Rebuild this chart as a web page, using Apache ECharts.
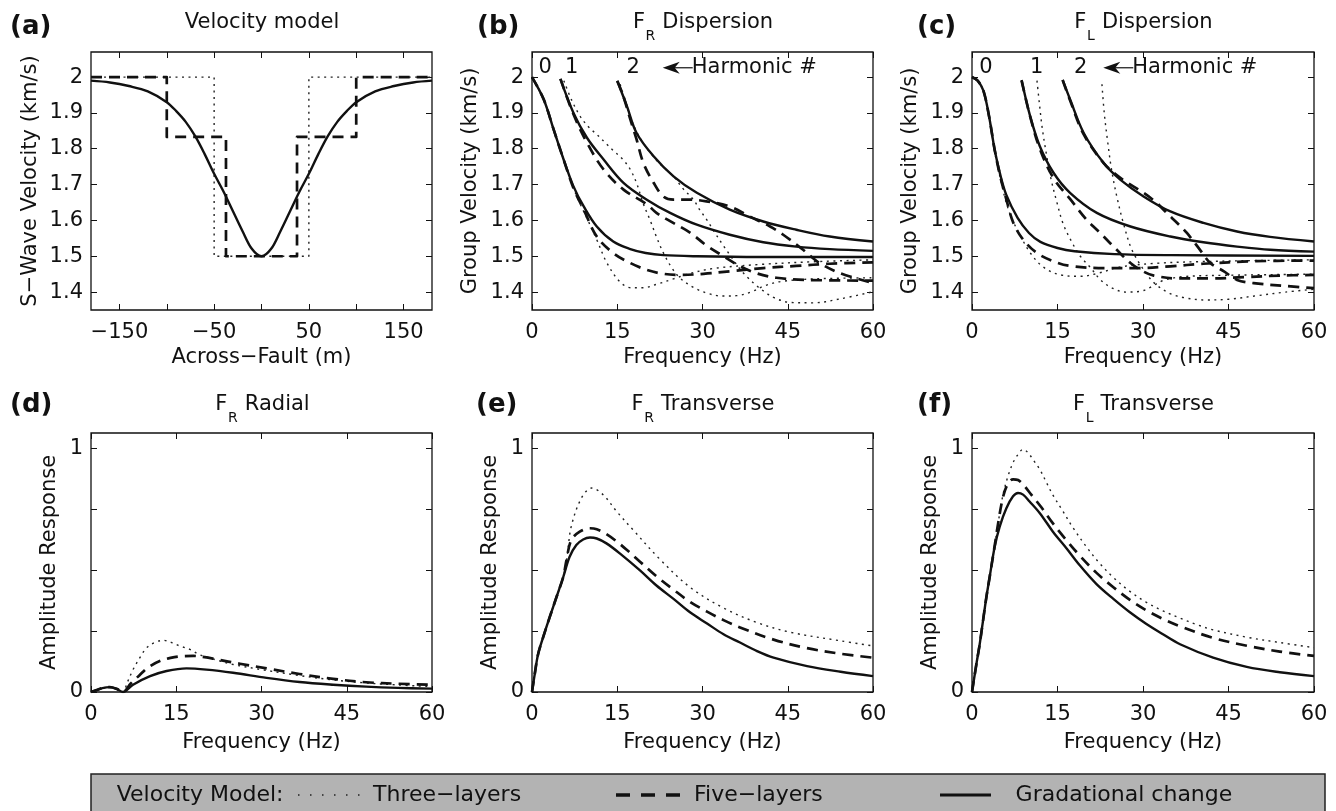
<!DOCTYPE html>
<html><head><meta charset="utf-8">
<script src="https://cdn.jsdelivr.net/npm/echarts@6/dist/echarts.min.js"></script>
<style>html,body{margin:0;padding:0;background:#fff}#c{width:1336px;height:811px}</style>
</head><body><div id="c"></div>
<script>
// ================= DATA =================
// (a) Velocity model
const velX = [-180,-160,-140,-120,-100,-90,-80,-70,-60,-50,-40,-30,-20,-10,0,10,20,30,40,50,60,70,80,90,100,120,140,160,180];
const velGradational = [1.99,1.985,1.975,1.96,1.93,1.905,1.875,1.835,1.785,1.73,1.68,1.625,1.57,1.52,1.5,1.52,1.57,1.625,1.68,1.73,1.785,1.835,1.875,1.905,1.93,1.96,1.975,1.985,1.99];
const velThreeX = [-180,-50,-50,50,50,180];
const velThreeV = [2,2,1.5,1.5,2,2];
const velFiveX = [-180,-100,-100,-37.5,-37.5,37.5,37.5,100,100,180];
const velFiveV = [2,2,1.833,1.833,1.5,1.5,1.833,1.833,2,2];
const velTicksX = [-150,-100,-50,0,50,100,150];
const velLabelsX = [-150,-50,50,150];
const velTicksY = [1.4,1.5,1.6,1.7,1.8,1.9,2];
const freqTicks = [0,15,30,45,60];
const ampTicks = [0,0.25,0.5,0.75,1];
const ampLabels = [0,1];

// (b) F_R dispersion  [frequency Hz, group velocity km/s]
const frThreeH0 = [[0,2.0],[2,1.94],[3.8,1.854],[5.56,1.77],[7.3,1.69],[8.5,1.645],[9.7,1.605],[11.4,1.546],[13.2,1.481],[15.5,1.428],[17.5,1.412],[19.5,1.412],[22,1.422],[24.9,1.437],[27.8,1.452],[32,1.466],[40,1.477],[50,1.485],[60,1.49]];
const frThreeH1 = [[5.6,1.99],[7,1.935],[8.5,1.89],[10,1.86],[11.4,1.84],[13,1.815],[14.3,1.795],[16,1.77],[17.3,1.742],[18.5,1.7],[19.5,1.65],[20.8,1.6],[22,1.55],[23.1,1.51],[24.5,1.47],[26,1.44],[28.4,1.413],[31,1.396],[33.5,1.389],[36,1.39],[38.5,1.4],[41,1.418],[44,1.43],[50,1.437],[60,1.44]];
const frThreeH2 = [[15.5,1.98],[16.5,1.93],[17.5,1.88],[19,1.83],[21,1.785],[23,1.75],[24.9,1.723],[26.5,1.69],[28.4,1.658],[29.5,1.63],[30.7,1.603],[32.2,1.565],[33.7,1.529],[35.2,1.495],[36.6,1.464],[38,1.44],[39.5,1.418],[41,1.4],[42.5,1.385],[45.4,1.371],[49.5,1.37],[54.2,1.381],[60,1.401]];
const frFiveH0 = [[0,2.0],[2.05,1.938],[3.8,1.854],[5.56,1.77],[7.3,1.69],[9.1,1.63],[11.4,1.555],[14.3,1.509],[17.3,1.481],[20.2,1.462],[23.1,1.451],[26.1,1.448],[30.2,1.451],[34.8,1.458],[40.7,1.467],[46.5,1.473],[52.4,1.479],[60,1.483]];
const frFiveH1 = [[5,1.995],[7.3,1.896],[9.7,1.816],[12.6,1.742],[16.1,1.686],[20.2,1.645],[21.9,1.621],[24.3,1.598],[27.8,1.566],[30.7,1.53],[33.7,1.5],[36.6,1.472],[39.6,1.452],[43,1.44],[48,1.434],[60,1.432]];
const frFiveH2 = [[15,1.99],[16,1.95],[17.3,1.882],[18.4,1.826],[19.6,1.76],[21.4,1.705],[23.1,1.667],[24.9,1.658],[27.8,1.658],[30.7,1.653],[34.8,1.639],[38.3,1.611],[41.9,1.583],[44.2,1.56],[47.7,1.518],[50.6,1.481],[54.2,1.453],[60,1.425]];
const frGradH0 = [[0,2.0],[2.05,1.938],[3.8,1.854],[5.56,1.77],[7.3,1.695],[9.1,1.639],[11.4,1.583],[14.3,1.541],[17.3,1.52],[20,1.509],[23.1,1.503],[29,1.5],[40,1.498],[60,1.498]];
const frGradH1 = [[5,1.995],[7.3,1.9],[9.7,1.83],[12.6,1.77],[16.1,1.705],[20.2,1.658],[24.3,1.621],[29,1.588],[34.8,1.56],[40.7,1.539],[46.5,1.527],[52.4,1.52],[60,1.515]];
const frGradH2 = [[15,1.989],[16.7,1.919],[18.4,1.844],[21.4,1.779],[24.9,1.723],[29,1.677],[34.8,1.63],[40.7,1.597],[46.5,1.574],[52.4,1.555],[60,1.541]];

// (c) F_L dispersion
const flThreeH0 = [[0,2.0],[1,1.99],[2,1.962],[3,1.89],[4,1.79],[5,1.715],[6,1.65],[7,1.605],[8.4,1.56],[10.2,1.51],[12.5,1.47],[15.5,1.448],[19,1.444],[22,1.452],[26,1.47],[32,1.48],[40,1.485],[50,1.488],[60,1.49]];
const flThreeH1 = [[11.4,1.99],[11.8,1.93],[12.3,1.86],[13,1.79],[13.8,1.72],[14.9,1.65],[16,1.59],[17.5,1.54],[19,1.5],[20.7,1.47],[22.5,1.435],[24.5,1.412],[27,1.4],[29.5,1.402],[31.5,1.415],[33.5,1.432],[37,1.443],[45,1.447],[60,1.45]];
const flThreeH2 = [[22.8,1.98],[23.2,1.9],[23.8,1.82],[24.5,1.74],[25.5,1.66],[26.6,1.59],[28,1.52],[30,1.465],[32,1.425],[34.5,1.398],[37,1.385],[41,1.378],[45,1.38],[50,1.39],[55,1.4],[60,1.408]];
const flFiveH0 = [[0,2.0],[1,1.99],[2,1.962],[3,1.89],[4,1.795],[5,1.72],[6,1.66],[7.26,1.593],[9,1.546],[11.4,1.509],[14.3,1.486],[17.2,1.473],[23.1,1.467],[28.9,1.467],[34.8,1.472],[40.6,1.479],[49.4,1.486],[60,1.488]];
const flFiveH1 = [[8.7,1.99],[10.2,1.89],[11.9,1.8],[14.3,1.718],[17.2,1.66],[20.1,1.602],[21.9,1.574],[23.1,1.555],[25.4,1.518],[27.8,1.481],[30,1.458],[31.9,1.446],[36,1.438],[42,1.438],[48,1.442],[54,1.446],[60,1.448]];
const flFiveH2 = [[15.9,1.992],[17.2,1.935],[19.6,1.84],[23.1,1.76],[25.5,1.725],[27.8,1.7],[30.1,1.677],[32.4,1.649],[34.2,1.62],[36,1.593],[37.7,1.565],[40,1.518],[41.8,1.481],[44.2,1.458],[46.5,1.434],[49.4,1.425],[55,1.417],[60,1.411]];
const flGradH0 = [[0,2.0],[1,1.99],[2,1.962],[3,1.89],[4,1.795],[5,1.725],[6,1.672],[8,1.607],[10,1.565],[12,1.54],[15,1.523],[18,1.514],[25,1.506],[35,1.503],[60,1.501]];
const flGradH1 = [[8.7,1.992],[10.2,1.891],[11.9,1.807],[14.3,1.733],[17.2,1.677],[21.9,1.621],[27.8,1.583],[34.8,1.555],[40.6,1.539],[46.5,1.527],[52.3,1.518],[60,1.513]];
const flGradH2 = [[15.9,1.992],[17.2,1.938],[19.6,1.844],[23.1,1.76],[26,1.714],[30.1,1.667],[34.8,1.625],[40.6,1.593],[46.5,1.569],[52.3,1.554],[60,1.541]];

// (d) F_R radial amplitude  [frequency Hz, amplitude]
const radialThree = [[0,0],[1,0.008],[2,0.016],[3.3,0.02],[4.5,0.013],[5.6,0],[6.4,0.04],[7.4,0.092],[8.6,0.141],[9.8,0.182],[11.2,0.203],[12.7,0.212],[14.2,0.203],[15.6,0.189],[17.4,0.175],[19.2,0.152],[22,0.132],[25,0.113],[30,0.092],[36,0.07],[42,0.051],[48,0.038],[54,0.029],[60,0.022]];
const radialFive = [[0,0],[1,0.008],[2,0.016],[3.3,0.02],[4.5,0.013],[5.6,0],[7,0.035],[8.5,0.068],[10,0.1],[12.1,0.127],[14,0.14],[16,0.147],[18,0.148],[20,0.143],[22.1,0.134],[26.2,0.116],[30.9,0.097],[36.7,0.074],[42.6,0.054],[48.4,0.04],[54,0.034],[60,0.03]];
const radialGrad = [[0,0],[1,0.008],[2,0.016],[3.3,0.02],[4.5,0.013],[5.6,0],[7.4,0.03],[10.4,0.065],[13.3,0.086],[16.8,0.097],[20.3,0.092],[25,0.079],[30.9,0.058],[36.7,0.041],[42.6,0.03],[48.4,0.022],[54,0.017],[60,0.014]];

// (e) F_R transverse amplitude
const transRThree = [[0,0],[0.47,0.072],[1.06,0.154],[1.94,0.223],[3.1,0.306],[4.3,0.389],[5.5,0.472],[6.2,0.56],[6.9,0.679],[8.7,0.796],[10.5,0.837],[12.5,0.81],[14.9,0.741],[17.8,0.665],[22.5,0.545],[27.8,0.43],[33.7,0.345],[39.6,0.285],[45.5,0.245],[54.3,0.21],[60,0.189]];
const transRFive = [[0,0],[0.47,0.072],[1.06,0.154],[1.94,0.223],[3.1,0.306],[4.3,0.389],[5.5,0.472],[6.06,0.541],[6.9,0.623],[8.4,0.658],[10.2,0.672],[11.4,0.668],[13.1,0.648],[14.9,0.618],[16.6,0.585],[19,0.535],[21.9,0.475],[24.9,0.42],[27.8,0.37],[30.8,0.33],[33.7,0.295],[36.6,0.265],[42.5,0.215],[48.4,0.18],[54.3,0.157],[60,0.141]];
const transRGrad = [[0,0],[0.47,0.072],[1.06,0.154],[1.94,0.223],[3.1,0.306],[4.3,0.389],[5.5,0.472],[6.6,0.554],[7.8,0.603],[9,0.626],[10.2,0.634],[11.4,0.63],[13.1,0.61],[15.5,0.568],[19,0.499],[21.9,0.437],[24.9,0.382],[27.8,0.327],[30.8,0.281],[33.7,0.237],[36.6,0.203],[39.6,0.168],[42.5,0.141],[48.4,0.106],[54.3,0.083],[60,0.065]];

// (f) F_L transverse amplitude
const transLThree = [[0,0],[0.76,0.113],[1.35,0.196],[1.93,0.292],[2.52,0.389],[3.1,0.472],[3.98,0.6],[4.57,0.69],[5.44,0.81],[6.32,0.886],[7.2,0.941],[8.08,0.975],[8.96,0.996],[9.84,0.982],[10.7,0.954],[11.9,0.913],[13.1,0.858],[14.2,0.808],[16,0.74],[17.7,0.675],[20.1,0.595],[22.4,0.528],[24.8,0.47],[27.7,0.413],[30.6,0.368],[33.5,0.333],[36.5,0.303],[39.4,0.277],[42.3,0.255],[48.2,0.225],[54,0.203],[60,0.182]];
const transLFive = [[0,0],[0.76,0.113],[1.35,0.196],[1.93,0.292],[2.52,0.389],[3.1,0.472],[3.98,0.6],[4.57,0.69],[5.44,0.8],[6.3,0.855],[7.2,0.873],[8.08,0.87],[8.96,0.852],[10.4,0.81],[12.2,0.757],[14.2,0.692],[16.6,0.622],[18.9,0.56],[21.8,0.49],[24.8,0.43],[27.7,0.378],[30.6,0.335],[33.5,0.3],[36.5,0.27],[42.3,0.222],[48.2,0.19],[54,0.166],[60,0.148]];
const transLGrad = [[0,0],[0.76,0.113],[1.35,0.196],[1.93,0.292],[2.52,0.389],[3.1,0.472],[3.98,0.596],[4.86,0.679],[6.03,0.754],[7.2,0.803],[8.08,0.817],[8.96,0.81],[10.1,0.782],[11.9,0.734],[14.2,0.658],[16.6,0.589],[18.9,0.52],[21.8,0.444],[24.8,0.382],[27.7,0.327],[30.6,0.279],[33.5,0.237],[36.5,0.196],[42.3,0.141],[48.2,0.103],[54,0.081],[60,0.065]];

// ================= CHART =================
const FONT = 'DejaVu Sans';
const INK = '#111';
const chart = echarts.init(document.getElementById('c'), null, {renderer:'canvas', width:1336, height:811});

const gridBoxes = [
  {left:91, top:52, width:341, height:258},
  {left:532, top:52, width:341, height:258},
  {left:972, top:52, width:342, height:258},
  {left:91, top:433, width:341, height:259},
  {left:532, top:433, width:341, height:259},
  {left:972, top:433, width:342, height:259}
];
const fmt = v => (v < 0 ? '\u2212' : '') + Math.abs(+v.toFixed(2));

const grid = gridBoxes.map(g => Object.assign({show:true, borderColor:INK, borderWidth:1.3, backgroundColor:'transparent', containLabel:false}, g));

const panelX = i => i === 0
  ? {min:-180, max:180, ticks:velTicksX, labels:velLabelsX, name:'Across\u2212Fault (m)'}
  : {min:0, max:60, ticks:freqTicks, labels:freqTicks, name:'Frequency (Hz)'};
const panelY = i => i < 3
  ? {min:1.35, max:2.07, ticks:velTicksY, labels:velTicksY, name: i===0 ? 'S\u2212Wave Velocity (km/s)' : 'Group Velocity (km/s)', gap: i===0 ? 50 : 51}
  : {min:0, max:1.063, ticks:ampTicks, labels:ampLabels, name:'Amplitude Response', gap:31};

const tickStyle = ticks => ({show:true, inside:true, length:6, customValues:ticks, lineStyle:{color:INK, width:1}});
const xAxis = [], yAxis = [];
for (let i = 0; i < 6; i++) {
  const px = panelX(i), py = panelY(i);
  xAxis.push({
    type:'value', gridIndex:i, position:'bottom', min:px.min, max:px.max,
    name:px.name, nameLocation:'middle', nameGap: i < 3 ? 37 : 40,
    nameTextStyle:{fontFamily:FONT, fontSize:21, color:INK},
    axisLine:{show:false, onZero:false}, splitLine:{show:false},
    axisTick:tickStyle(px.ticks),
    axisLabel:{show:true, margin:12, customValues:px.labels, formatter:fmt, fontFamily:FONT, fontSize:21, color:INK}
  });
  yAxis.push({
    type:'value', gridIndex:i, position:'left', min:py.min, max:py.max,
    name:py.name, nameLocation:'middle', nameGap:py.gap, nameRotate:90,
    nameTextStyle:{fontFamily:FONT, fontSize:21, color:INK},
    axisLine:{show:false, onZero:false}, splitLine:{show:false},
    axisTick:tickStyle(py.ticks),
    axisLabel:{show:true, margin:8, customValues:py.labels, formatter:fmt, fontFamily:FONT, fontSize:21, color:INK}
  });
}
// mirrored ticks (top / right)
for (let i = 0; i < 6; i++) {
  const px = panelX(i), py = panelY(i);
  xAxis.push({type:'value', gridIndex:i, position:'top', min:px.min, max:px.max,
    axisLine:{show:false, onZero:false}, splitLine:{show:false}, axisLabel:{show:false},
    axisTick:tickStyle(px.ticks)});
  yAxis.push({type:'value', gridIndex:i, position:'right', min:py.min, max:py.max,
    axisLine:{show:false, onZero:false}, splitLine:{show:false}, axisLabel:{show:false},
    axisTick:tickStyle(py.ticks)});
}

const STY = {
  three:{color:'#222', width:1.4, type:[2,4.5], z:2},
  five:{color:'#111', width:2.7, type:[11,7], z:3},
  grad:{color:'#111', width:2.4, type:'solid', z:4}
};
function mk(gi, data, kind, smooth) {
  const s = STY[kind];
  return {type:'line', xAxisIndex:gi, yAxisIndex:gi, data:data, symbol:'none', showSymbol:false,
    smooth: smooth ? 0.35 : false,
    lineStyle:{color:s.color, width:s.width, type:s.type, cap:'butt', join:'round'}, z:s.z, silent:true, animation:false, clip:true};
}
const zip = (xs, vs) => xs.map((x, k) => [x, vs[k]]);

const series = [
  mk(0, zip(velThreeX, velThreeV), 'three', false),
  mk(0, zip(velFiveX, velFiveV), 'five', false),
  mk(0, zip(velX, velGradational), 'grad', true),
  mk(1, frThreeH0, 'three', true), mk(1, frThreeH1, 'three', true), mk(1, frThreeH2, 'three', true),
  mk(1, frFiveH0, 'five', true), mk(1, frFiveH1, 'five', true), mk(1, frFiveH2, 'five', true),
  mk(1, frGradH0, 'grad', true), mk(1, frGradH1, 'grad', true), mk(1, frGradH2, 'grad', true),
  mk(2, flThreeH0, 'three', true), mk(2, flThreeH1, 'three', true), mk(2, flThreeH2, 'three', true),
  mk(2, flFiveH0, 'five', true), mk(2, flFiveH1, 'five', true), mk(2, flFiveH2, 'five', true),
  mk(2, flGradH0, 'grad', true), mk(2, flGradH1, 'grad', true), mk(2, flGradH2, 'grad', true),
  mk(3, radialThree, 'three', true), mk(3, radialFive, 'five', true), mk(3, radialGrad, 'grad', true),
  mk(4, transRThree, 'three', true), mk(4, transRFive, 'five', true), mk(4, transRGrad, 'grad', true),
  mk(5, transLThree, 'three', true), mk(5, transLFive, 'five', true), mk(5, transLGrad, 'grad', true)
];

chart.setOption({animation:false, backgroundColor:'#fff', grid, xAxis, yAxis, series});

// ================= TEXT / ANNOTATIONS =================
const mctx = document.createElement('canvas').getContext('2d');
function tw(t, size, weight) { mctx.font = (weight || 'normal') + ' ' + size + 'px "' + FONT + '"'; return mctx.measureText(t).width; }
function txt(x, y, t, size, opt) {
  opt = opt || {};
  return {type:'text', x:x, y:y, silent:true, z:100,
    style:{text:t, fontSize:size, fontFamily:FONT, fontWeight:opt.weight || 'normal', fill:INK,
      align:opt.align || 'left', verticalAlign:'middle'}};
}
function subTitle(cx, y, main, sub, rest) {
  const w1 = tw(main, 21), w2 = tw(sub, 14), w3 = tw(rest, 21);
  const x = cx - (w1 + w2 + w3) / 2;
  return [txt(x, y, main, 21), txt(x + w1 + 0.5, y + 14, sub, 14), txt(x + w1 + w2 + 1, y, rest, 21)];
}
const gfx = [];
const topY = 22.7, botY = 404.4;
gfx.push(txt(10, 27.5, '(a)', 26, {weight:'bold'}));
gfx.push(txt(477, 27.5, '(b)', 26, {weight:'bold'}));
gfx.push(txt(917, 27.5, '(c)', 26, {weight:'bold'}));
gfx.push(txt(10, 405.5, '(d)', 26, {weight:'bold'}));
gfx.push(txt(476, 405.5, '(e)', 26, {weight:'bold'}));
gfx.push(txt(917, 405.5, '(f)', 26, {weight:'bold'}));
gfx.push(txt(262, topY, 'Velocity model', 21, {align:'center'}));
gfx.push(...subTitle(702.5, topY, 'F', 'R', ' Dispersion'));
gfx.push(...subTitle(1143, topY, 'F', 'L', ' Dispersion'));
gfx.push(...subTitle(262, botY, 'F', 'R', ' Radial'));
gfx.push(...subTitle(702.5, botY, 'F', 'R', ' Transverse'));
gfx.push(...subTitle(1143, botY, 'F', 'L', ' Transverse'));

// harmonic number annotations (placed in data coordinates)
const harmonicText = ['0', '1', '2'];
const harmonicAnno = [
  {gi:1, f:[2.3, 6.98, 17.8], tip:23.0},
  {gi:2, f:[2.45, 11.35, 19.07], tip:23.03}
];
const annoV = 2.026;
harmonicAnno.forEach(a => {
  a.f.forEach((f, k) => {
    const p = chart.convertToPixel({xAxisIndex:a.gi, yAxisIndex:a.gi}, [f, annoV]);
    gfx.push(txt(p[0], p[1], harmonicText[k], 21, {align:'center'}));
  });
  const t = chart.convertToPixel({xAxisIndex:a.gi, yAxisIndex:a.gi}, [a.tip, annoV]);
  const tx = t[0], ty = t[1];
  gfx.push({type:'polygon', silent:true, z:100, shape:{points:[[tx, ty], [tx + 17, ty - 6], [tx + 12, ty], [tx + 17, ty + 6]]}, style:{fill:INK}});
  gfx.push({type:'line', silent:true, z:100, shape:{x1:tx + 10, y1:ty, x2:tx + 30, y2:ty}, style:{stroke:INK, lineWidth:1.2}});
  gfx.push(txt(tx + 29, ty, 'Harmonic #', 21));
});

// legend box
const legY = 795;
gfx.push({type:'rect', silent:true, z:90, shape:{x:91, y:774, width:1234, height:45}, style:{fill:'#b3b3b3', stroke:'#222', lineWidth:1.5}});
gfx.push(txt(116.7, legY, 'Velocity Model:', 22));
gfx.push({type:'line', silent:true, z:100, shape:{x1:298, y1:legY, x2:360, y2:legY}, style:{stroke:'#222', lineWidth:1.3, lineDash:[1.5, 10.5]}});
gfx.push(txt(373, legY, 'Three\u2212layers', 22));
gfx.push({type:'line', silent:true, z:100, shape:{x1:616, y1:legY, x2:680, y2:legY}, style:{stroke:INK, lineWidth:3.5, lineDash:[14, 11]}});
gfx.push(txt(694, legY, 'Five\u2212layers', 22));
gfx.push({type:'line', silent:true, z:100, shape:{x1:940, y1:legY, x2:991, y2:legY}, style:{stroke:INK, lineWidth:3}});
gfx.push(txt(1015.6, legY, 'Gradational change', 22));

chart.setOption({graphic: gfx});
</script>
</body></html>
